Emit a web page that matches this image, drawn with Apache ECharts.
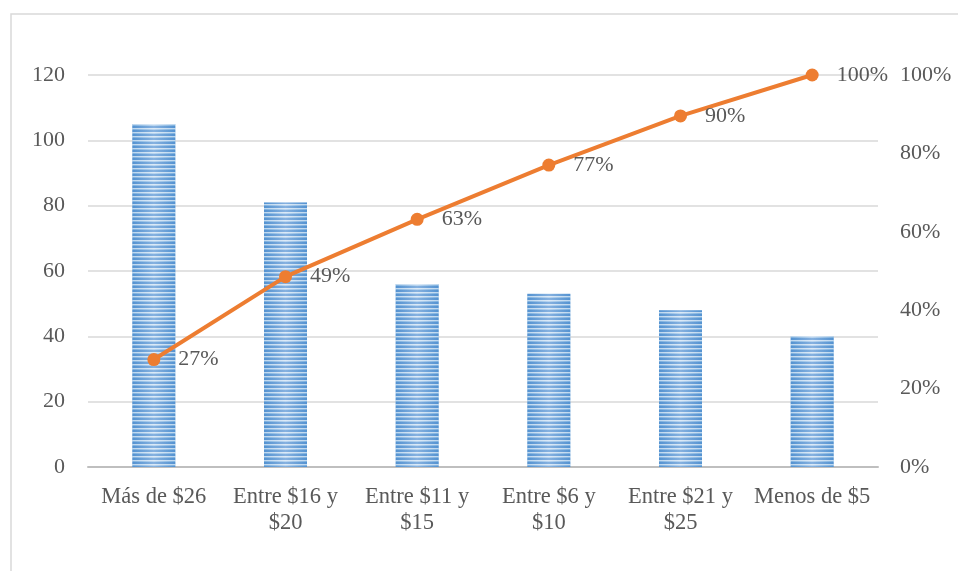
<!DOCTYPE html>
<html>
<head>
<meta charset="utf-8">
<script src="https://cdn.jsdelivr.net/npm/echarts@6/dist/echarts.min.js"></script>
<style>
  html, body { margin: 0; padding: 0; background: #fff; }
  #chart { width: 958px; height: 571px; }
</style>
</head>
<body>
<div id="chart"></div>
<script>
// Price ranges and number of responses per range
const categories = ['Más de $26', 'Entre $16 y\n$20', 'Entre $11 y\n$15', 'Entre $6 y\n$10', 'Entre $21 y\n$25', 'Menos de $5'];
const counts = [105, 81, 56, 53, 48, 40];
const leftTicks = [0, 20, 40, 60, 80, 100, 120];
const rightTicks = ['0%', '20%', '40%', '60%', '80%', '100%'];

// Cumulative share, computed from the counts
const total = counts.reduce((a, b) => a + b, 0);
let running = 0;
const cumulative = counts.map(v => { running += v; return running / total; });

// Horizontal stripe texture for the bars
function stripeCanvas() {
  const c = document.createElement('canvas');
  c.width = 4; c.height = 4;
  const g = c.getContext('2d');
  g.clearRect(0, 0, 4, 4);
  g.fillStyle = 'rgba(255,255,255,0.6)';
  g.fillRect(0, 0, 4, 1);
  g.fillStyle = 'rgba(255,255,255,0.2)';
  g.fillRect(0, 1, 4, 1);
  g.fillStyle = 'rgba(70,130,200,0.35)';
  g.fillRect(0, 2, 4, 2);
  return c;
}

const font = 'Liberation Serif';
const textColor = '#595959';

const chart = echarts.init(document.getElementById('chart'), null, { renderer: 'canvas' });
chart.setOption({
  animation: false,
  backgroundColor: '#fff',
  graphic: [{
    type: 'rect',
    shape: { x: 11, y: 14, width: 960, height: 580 },
    style: { fill: 'none', stroke: '#d9d9d9', lineWidth: 1.5 },
    silent: true,
    z: -1
  }],
  grid: { left: 88, right: 80, top: 75, bottom: 104 },
  xAxis: {
    type: 'category',
    data: categories,
    axisTick: { show: false },
    axisLine: { lineStyle: { color: '#bfbfbf', width: 2 } },
    axisLabel: {
      color: textColor, fontFamily: font, fontSize: 22.5, lineHeight: 26,
      margin: 17, interval: 0
    }
  },
  yAxis: [{
    type: 'value', min: 0, max: 120, interval: 20,
    axisLine: { show: false }, axisTick: { show: false },
    splitLine: { lineStyle: { color: '#d9d9d9', width: 1.5 } },
    axisLabel: { color: textColor, fontFamily: font, fontSize: 22, margin: 23,
      formatter: v => String(leftTicks[Math.round(v / 20)]) }
  }, {
    type: 'value', min: 0, max: 1, interval: 0.2,
    axisLine: { show: false }, axisTick: { show: false },
    splitLine: { show: false },
    axisLabel: { color: textColor, fontFamily: font, fontSize: 22, margin: 22,
      formatter: v => rightTicks[Math.round(v / 0.2)] }
  }],
  series: [{
    type: 'bar',
    data: counts,
    barWidth: 43,
    itemStyle: {
      color: new echarts.graphic.LinearGradient(0, 0, 1, 0, [
        { offset: 0, color: '#5b9bd5' },
        { offset: 0.5, color: '#a9cbec' },
        { offset: 1, color: '#5b9bd5' }
      ])
    },
    z: 2
  }, {
    type: 'bar',
    data: counts,
    barWidth: 43,
    barGap: '-100%',
    itemStyle: { color: { image: stripeCanvas(), repeat: 'repeat' } },
    silent: true,
    z: 3
  }, {
    type: 'line',
    yAxisIndex: 1,
    data: cumulative,
    symbol: 'circle',
    symbolSize: 13,
    lineStyle: { color: '#ed7d31', width: 4 },
    itemStyle: { color: '#ed7d31' },
    label: {
      show: true, position: 'right', distance: 18,
      color: textColor, fontFamily: font, fontSize: 22,
      formatter: p => Math.round(p.value * 100) + '%'
    },
    z: 5
  }]
});
</script>
</body>
</html>
